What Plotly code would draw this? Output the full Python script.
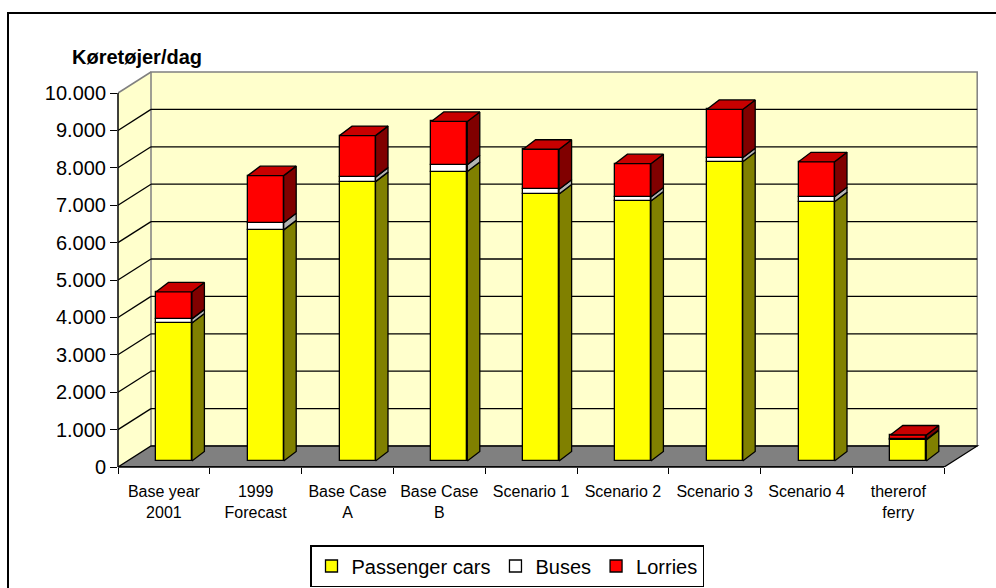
import plotly.graph_objects as go

# ---------------- data ----------------
categories = ["Base year<br>2001", "1999<br>Forecast", "Base Case<br>A", "Base Case<br>B",
              "Scenario 1", "Scenario 2", "Scenario 3", "Scenario 4", "thererof<br>ferry"]
passenger_cars = [3690, 6180, 7470, 7740, 7140, 6950, 8000, 6930, 560]
buses = [110, 190, 120, 180, 125, 110, 110, 135, 20]
lorries = [720, 1260, 1110, 1160, 1070, 890, 1290, 935, 115]
series_names = ["Passenger cars", "Buses", "Lorries"]
ytick_vals = [0, 1000, 2000, 3000, 4000, 5000, 6000, 7000, 8000, 9000, 10000]
ytick_text = ["0", "1.000", "2.000", "3.000", "4.000", "5.000", "6.000", "7.000",
              "8.000", "9.000", "10.000"]
y_title = "Køretøjer/dag"

# ---------------- geometry (pixels -> data units) ----------------
W, H = 996, 588
X0PX, XSTEP = 118, 91.8          # px of x=-0.5, px per category
Y0PX, YSTEP = 467, 37.4          # px of y=0, px per 1000
PLOT_R, PLOT_T = 980, 70
n = len(categories)
xmin = -0.5
xmax = -0.5 + (PLOT_R - X0PX) / XSTEP
ymin = 0
ymax = (Y0PX - PLOT_T) / YSTEP * 1000


def dx(px):
    return px / XSTEP


def dy(px):
    return px / YSTEP * 1000


def paper_x(x):
    return (x - xmin) / (xmax - xmin)


def paper_y(y):
    return (y - ymin) / (ymax - ymin)


wall_dx, wall_dy = dx(33), dy(21)
bar_fx, bar_fy = dx(10), dy(6)
bar_dx, bar_dy = dx(12.5), dy(9.5)
bar_w = dx(36)
ytop = ytick_vals[-1]

FONT = "Liberation Sans, Arial, sans-serif"
front_cols = ["#FFFF00", "#FFFFFF", "#FF0000"]
side_cols = ["#808000", "#B4B4B4", "#800000"]
top_col = "#C80000"
LW = 1.3

fig = go.Figure()

values = [passenger_cars, buses, lorries]
bases = []
acc = [0] * n
for vals in values:
    bases.append(list(acc))
    acc = [a + v for a, v in zip(acc, vals)]

xs_front = [i + bar_fx for i in range(n)]

# front faces as bars
for k, vals in enumerate(values):
    fig.add_trace(go.Bar(
        x=xs_front, y=vals, base=[b + bar_fy for b in bases[k]], width=bar_w,
        name=series_names[k],
        marker=dict(color=front_cols[k], line=dict(color="black", width=LW)),
        hoverinfo="skip"))

# side faces
for k, vals in enumerate(values):
    px_, py_ = [], []
    for i in range(n):
        xr = xs_front[i] + bar_w / 2
        b = bases[k][i] + bar_fy
        t = b + vals[i]
        px_ += [xr, xr + bar_dx, xr + bar_dx, xr, xr, None]
        py_ += [b, b + bar_dy, t + bar_dy, t, b, None]
    fig.add_trace(go.Scatter(x=px_, y=py_, mode="lines", fill="toself",
                             fillcolor=side_cols[k],
                             line=dict(color="black", width=LW),
                             showlegend=False, hoverinfo="skip"))

# top faces (top segment)
tx, ty = [], []
for i in range(n):
    xl = xs_front[i] - bar_w / 2
    xr = xs_front[i] + bar_w / 2
    t = acc[i] + bar_fy
    tx += [xl, xr, xr + bar_dx, xl + bar_dx, xl, None]
    ty += [t, t, t + bar_dy, t + bar_dy, t, None]
fig.add_trace(go.Scatter(x=tx, y=ty, mode="lines", fill="toself", fillcolor=top_col,
                         line=dict(color="black", width=LW),
                         showlegend=False, hoverinfo="skip"))

# ---------------- walls / floor / gridlines ----------------
shapes = []
xl_w, xr_w = -0.5, n - 0.5
# left wall
shapes.append(dict(type="path", layer="below", xref="x", yref="y",
                   path=f"M {xl_w},0 L {xl_w + wall_dx},{wall_dy} L {xl_w + wall_dx},{ytop + wall_dy} L {xl_w},{ytop} Z",
                   fillcolor="#FFFFCC", line=dict(width=0)))
# back wall
shapes.append(dict(type="rect", layer="below", xref="x", yref="y",
                   x0=xl_w + wall_dx, x1=xr_w + wall_dx, y0=wall_dy, y1=ytop + wall_dy,
                   fillcolor="#FFFFCC", line=dict(color="#808080", width=1.5)))
# gridlines
for v in ytick_vals[1:-1]:
    shapes.append(dict(type="line", layer="below", xref="x", yref="y",
                       x0=xl_w + wall_dx, x1=xr_w + wall_dx, y0=v + wall_dy, y1=v + wall_dy,
                       line=dict(color="black", width=LW)))
    shapes.append(dict(type="line", layer="below", xref="x", yref="y",
                       x0=xl_w, x1=xl_w + wall_dx, y0=v, y1=v + wall_dy,
                       line=dict(color="black", width=LW)))
# top slant edge of left wall
shapes.append(dict(type="line", layer="below", xref="x", yref="y",
                   x0=xl_w, x1=xl_w + wall_dx, y0=ytop, y1=ytop + wall_dy,
                   line=dict(color="#808080", width=1.5)))
# floor
shapes.append(dict(type="path", layer="below", xref="x", yref="y",
                   path=f"M {xl_w},0 L {xr_w},0 L {xr_w + wall_dx},{wall_dy} L {xl_w + wall_dx},{wall_dy} Z",
                   fillcolor="#808080", line=dict(color="black", width=LW)))
# front axis lines (paper refs, unclipped)
shapes.append(dict(type="line", layer="above", xref="paper", yref="paper",
                   x0=0, x1=0, y0=0, y1=paper_y(ytop), line=dict(color="black", width=1.5)))
shapes.append(dict(type="line", layer="above", xref="paper", yref="paper",
                   x0=0, x1=paper_x(xr_w), y0=0, y1=0, line=dict(color="black", width=1.5)))
# chart border
pw = PLOT_R - X0PX
ph = Y0PX - PLOT_T
shapes.append(dict(type="rect", layer="below", xref="paper", yref="paper",
                   x0=(8 - X0PX) / pw, x1=(1010 - X0PX) / pw,
                   y0=(Y0PX - 620) / ph, y1=(Y0PX - 13) / ph,
                   line=dict(color="black", width=2), fillcolor="rgba(0,0,0,0)"))

fig.update_layout(
    width=W, height=H, autosize=False,
    margin=dict(l=X0PX, r=W - PLOT_R, t=PLOT_T, b=H - Y0PX, pad=0),
    paper_bgcolor="white", plot_bgcolor="white",
    barmode="overlay", bargap=0,
    font=dict(family=FONT, color="black"),
    shapes=shapes,
    title=dict(text=f"<b>{y_title}</b>", xref="container", yref="container",
               x=72 / W, xanchor="left", y=1 - 57 / H, yanchor="middle",
               font=dict(size=20, family=FONT, color="black")),
    showlegend=True,
    legend=dict(orientation="h", xref="container", yref="container",
                x=507 / W, xanchor="center",
                y=1 - 587 / H, yanchor="bottom",
                font=dict(size=20, family=FONT, color="black"),
                bordercolor="black", borderwidth=1.5, bgcolor="white",
                traceorder="normal", itemwidth=30, tracegroupgap=0),
)

fig.update_xaxes(range=[xmin, xmax], showgrid=False, zeroline=False, showline=False,
                 automargin=False,
                 tickmode="array", tickvals=list(range(n)), ticktext=categories,
                 ticks="outside", ticklen=10, tickcolor="rgba(0,0,0,0)",
                 tickfont=dict(size=16, family=FONT, color="black"),
                 minor=dict(tickmode="array", tickvals=[i - 0.5 for i in range(n + 1)],
                            ticks="outside", ticklen=6, tickcolor="black", tickwidth=1.3,
                            showgrid=False))
fig.update_yaxes(range=[ymin, ymax], showgrid=False, zeroline=False, showline=False,
                 automargin=False,
                 tickmode="array", tickvals=ytick_vals, ticktext=ytick_text,
                 ticks="outside", ticklen=7, tickcolor="black", tickwidth=1.3,
                 tickfont=dict(size=20, family=FONT, color="black"))

fig.write_html("out.html")
